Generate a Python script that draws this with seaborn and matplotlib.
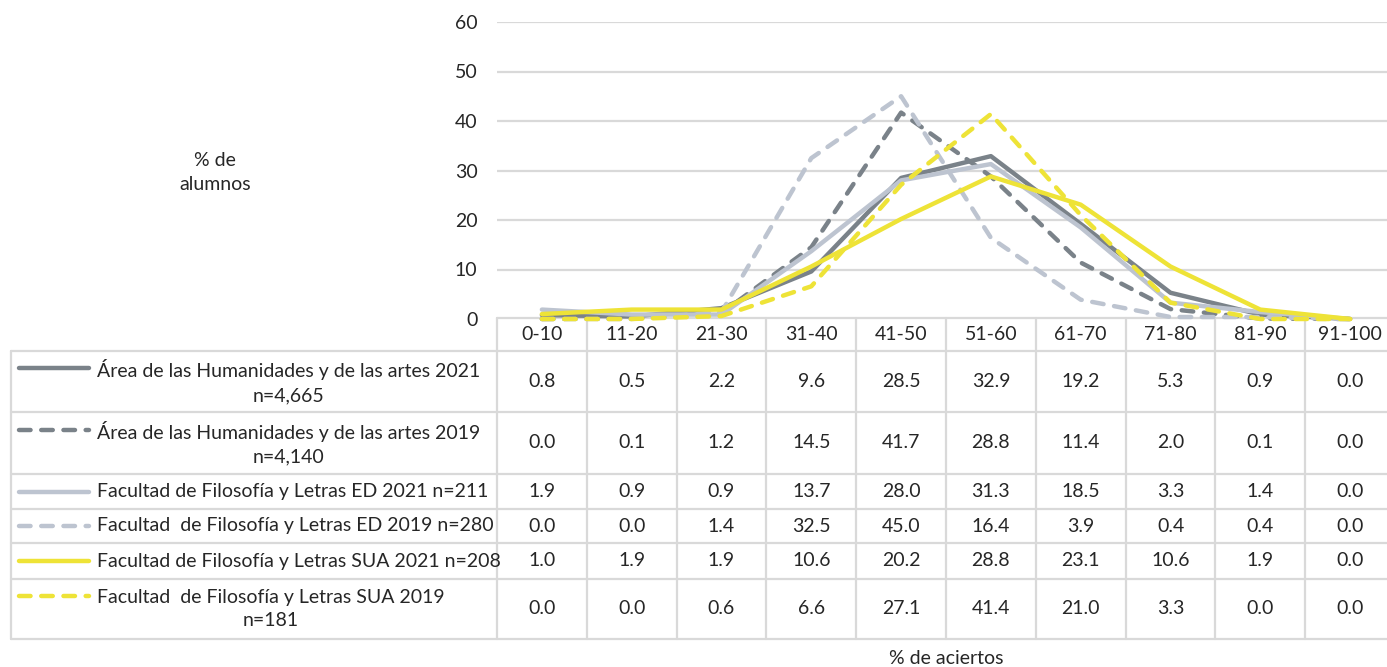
import numpy as np
import pandas as pd
import matplotlib.pyplot as plt
import seaborn as sns

# %% datos

categorias = ["0-10", "11-20", "21-30", "31-40", "41-50",
              "51-60", "61-70", "71-80", "81-90", "91-100"]

area_2021 = [0.8, 0.5, 2.2, 9.6, 28.5, 32.9, 19.2, 5.3, 0.9, 0.0]
area_2019 = [0.0, 0.1, 1.2, 14.5, 41.7, 28.8, 11.4, 2.0, 0.1, 0.0]
ffl_ed_2021 = [1.9, 0.9, 0.9, 13.7, 28.0, 31.3, 18.5, 3.3, 1.4, 0.0]
ffl_ed_2019 = [0.0, 0.0, 1.4, 32.5, 45.0, 16.4, 3.9, 0.4, 0.4, 0.0]
ffl_sua_2021 = [1.0, 1.9, 1.9, 10.6, 20.2, 28.8, 23.1, 10.6, 1.9, 0.0]
ffl_sua_2019 = [0.0, 0.0, 0.6, 6.6, 27.1, 41.4, 21.0, 3.3, 0.0, 0.0]

series = [
    ("Área de las Humanidades y de las artes 2021\nn=4,665", area_2021),
    ("Área de las Humanidades y de las artes 2019\nn=4,140", area_2019),
    ("Facultad de Filosofía y Letras ED 2021 n=211", ffl_ed_2021),
    ("Facultad  de Filosofía y Letras ED 2019 n=280", ffl_ed_2019),
    ("Facultad de Filosofía y Letras SUA 2021 n=208", ffl_sua_2021),
    ("Facultad  de Filosofía y Letras SUA 2019\nn=181", ffl_sua_2019),
]

colores = ["#7A8289", "#7A8289", "#BDC4D0", "#BDC4D0", "#EEE337", "#EEE337"]
discontinua = [False, True, False, True, False, True]

# %% figura

sns.set_style("white")
plt.rcParams["font.family"] = ["Lato", "DejaVu Sans"]
fs = 14
gris = "#D9D9D9"
dash = (0, (2.6, 2.4))

W, H = 1387, 667
fig = plt.figure(figsize=(W / 100, H / 100), dpi=100)

# capa en pixeles para la tabla de datos
tab = fig.add_axes([0, 0, 1, 1])
tab.set_xlim(0, W)
tab.set_ylim(H, 0)
tab.axis("off")

x0, x1 = 497, 1395
y_top, y_zero = 22, 319
ax = fig.add_axes([x0 / W, 1 - y_zero / H, (x1 - x0) / W, (y_zero - y_top) / H])
ax.patch.set_alpha(0)

pos = np.arange(len(categorias))
for (nombre, vals), c, d in zip(series, colores, discontinua):
    sns.lineplot(x=pos, y=vals, ax=ax, color=c, lw=3.2,
                 linestyle=dash if d else "-", dash_capstyle="round",
                 solid_joinstyle="round", dash_joinstyle="round", clip_on=False)

ax.set_xlim(-0.5, len(categorias) - 0.5)
ax.set_ylim(0, 60)
ax.set_yticks(range(0, 61, 10))
ax.set_xticks([])
ax.yaxis.grid(True, color=gris, lw=1.6)
ax.set_axisbelow(True)
ax.tick_params(axis="y", length=0, pad=14, labelsize=fs)
for s in ax.spines.values():
    s.set_visible(False)
ax.set_xlabel("")
ax.set_ylabel("")

# tabla
col_w = (x1 - x0) / len(categorias)
bordes_x = [x0 + i * col_w for i in range(len(categorias) + 1)]
filas = [351, 412, 474, 509, 543, 579, 639]
left = 11

tab.plot([x0, x1], [318, 318], color=gris, lw=1.6)
for bx in bordes_x:
    tab.plot([bx, bx], [318, filas[-1]], color=gris, lw=1.6)
tab.plot([left, left], [filas[0], filas[-1]], color=gris, lw=1.6)
for fy in filas:
    tab.plot([left, x1], [fy, fy], color=gris, lw=1.6)

for i, cat in enumerate(categorias):
    tab.text(bordes_x[i] + col_w / 2, (318 + filas[0]) / 2, cat,
             ha="center", va="center", fontsize=fs)

for r, ((nombre, vals), c, d) in enumerate(zip(series, colores, discontinua)):
    yc = (filas[r] + filas[r + 1]) / 2
    dos = "\n" in nombre
    yk = yc - 13.5 if dos else yc
    tab.plot([19, 89], [yk, yk], color=c, lw=3.2, linestyle=dash if d else "-",
             dash_capstyle="round", solid_capstyle="round")
    tab.text(97, yc, nombre, ha="left", va="center", multialignment="center",
             fontsize=fs, linespacing=1.5)
    for i, v in enumerate(vals):
        tab.text(bordes_x[i] + col_w / 2, yc, f"{v:.1f}",
                 ha="center", va="center", fontsize=fs)

fig.text(215 / W, 1 - 172 / H, "% de\nalumnos", ha="center", va="center",
         fontsize=fs, linespacing=1.5)
fig.text(946 / W, 1 - 658 / H, "% de aciertos", ha="center", va="center",
         fontsize=fs)

fig.savefig("out.png", dpi=100, facecolor="white")
